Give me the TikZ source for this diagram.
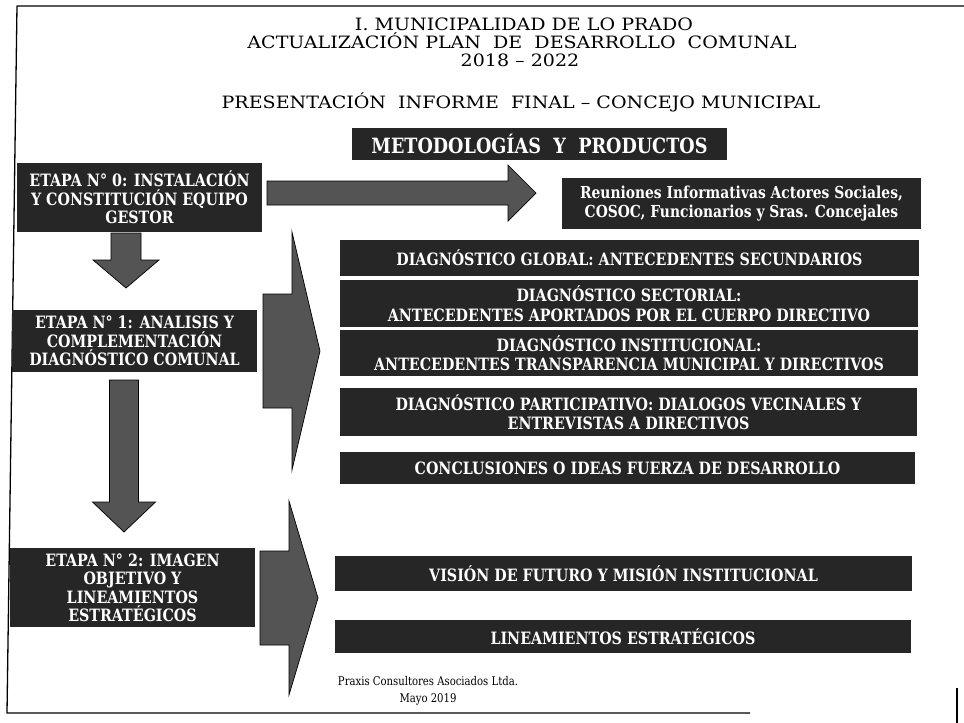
\documentclass[tikz,border=0pt]{standalone}
\usepackage{fontspec}
\setmainfont{DejaVu Serif}
\newfontfamily\headfont[FakeStretch=1.12]{DejaVu Serif}
\newfontfamily\boxfont[FakeStretch=0.84]{DejaVu Serif}
\usetikzlibrary{calc}

\begin{document}
\begin{tikzpicture}[x=1pt,y=-1pt,
  darkbox/.style={fill=boxColor,text=white,font=\boxfont\bfseries\fontsize{17}{19.5}\selectfont,
    align=center,inner sep=0pt,outer sep=0pt},
  etapabox/.style={darkbox,font=\boxfont\bfseries\fontsize{17}{18.5}\selectfont,minimum width=245},
  titletext/.style={font=\headfont\fontsize{17}{20}\selectfont,inner sep=0pt},
  arrowfill/.style={draw=black,fill=arrowColor,line width=0.7pt,line join=miter},
  blockright/.style n args={3}{to path={let \p1=(\tikztostart),\p2=(\tikztotarget) in
    (\x1,\y1+#1) -- (\x2-#3,\y1+#1) -- (\x2-#3,\y1+#2) -- (\x2,\y1) --
    (\x2-#3,\y1-#2) -- (\x2-#3,\y1-#1) -- (\x1,\y1-#1) -- cycle}},
  blockdown/.style n args={3}{to path={let \p1=(\tikztostart),\p2=(\tikztotarget) in
    (\x1-#1,\y1) -- (\x1-#1,\y2+#3) -- (\x1-#2,\y2+#3) -- (\x1,\y2) --
    (\x1+#2,\y2+#3) -- (\x1+#1,\y2+#3) -- (\x1+#1,\y1) -- cycle}}]
\definecolor{fillColor}{RGB}{255,255,255}
\definecolor{boxColor}{gray}{0.15}
\definecolor{arrowColor}{gray}{0.33}
\path[use as bounding box,fill=fillColor] (0,0) rectangle (964,723);

% page frame of the scan
\path[draw=black,line width=1.3pt,line join=round] (964,6) -- (17,6) -- (7,713) -- (750,713);
\path[draw=black,line width=1.1pt] (957,688) -- (957,723);

% heading
\node[titletext] (tit1) at (524,24) {I. MUNICIPALIDAD DE LO PRADO};
\node[titletext] (tit2) at (522,41) {ACTUALIZACIÓN PLAN\ \ DE\ \ DESARROLLO\ \ COMUNAL};
\node[titletext] (tit3) at (520,60) {2018 – 2022};
\node[titletext] (tit4) at (521,102) {PRESENTACIÓN\ \ INFORME\ \ FINAL – CONCEJO MUNICIPAL};

\node[darkbox,minimum width=375,minimum height=32,font=\boxfont\bfseries\fontsize{21}{22}\selectfont] (metod) at (539.5,144) {METODOLOGÍAS\ \ Y\ \ PRODUCTOS};

% stages
\node[etapabox,minimum height=69] (etapa0) at (139.5,197.5) {ETAPA N° 0: INSTALACIÓN\\Y CONSTITUCIÓN EQUIPO\\GESTOR};
\node[etapabox,minimum height=62] (etapa1) at (134.5,341) {ETAPA N° 1: ANALISIS Y\\COMPLEMENTACIÓN\\DIAGNÓSTICO COMUNAL};
\node[etapabox,minimum height=79] (etapa2) at (132.5,587.5) {ETAPA N° 2: IMAGEN\\OBJETIVO Y\\LINEAMIENTOS\\ESTRATÉGICOS};

% products
\node[darkbox,minimum width=359,minimum height=51,font=\boxfont\bfseries\fontsize{16.5}{18.5}\selectfont] (reun) at (741.5,203.5) {Reuniones Informativas Actores Sociales,\\COSOC, Funcionarios y Sras. Concejales};
\node[darkbox,minimum width=579,minimum height=36] (global) at (629.5,258) {DIAGNÓSTICO GLOBAL: ANTECEDENTES SECUNDARIOS};
\node[darkbox,minimum width=578,minimum height=47] (sect) at (629,303.5) {DIAGNÓSTICO SECTORIAL:\\ANTECEDENTES APORTADOS POR EL CUERPO DIRECTIVO};
\node[darkbox,minimum width=578,minimum height=46] (inst) at (629,353) {DIAGNÓSTICO INSTITUCIONAL:\\ANTECEDENTES TRANSPARENCIA MUNICIPAL Y DIRECTIVOS};
\node[darkbox,minimum width=577,minimum height=48] (part) at (628.5,412) {DIAGNÓSTICO PARTICIPATIVO: DIALOGOS VECINALES Y\\ENTREVISTAS A DIRECTIVOS};
\node[darkbox,minimum width=575,minimum height=32] (concl) at (627.5,468) {CONCLUSIONES O IDEAS FUERZA DE DESARROLLO};
\node[darkbox,minimum width=577,minimum height=35] (vision) at (623.5,573.5) {VISIÓN DE FUTURO Y MISIÓN INSTITUCIONAL};
\node[darkbox,minimum width=576,minimum height=33] (linea) at (623,636.5) {LINEAMIENTOS ESTRATÉGICOS};

% block arrows
\path[arrowfill] ($(etapa0.east)+(5,-4.5)$) to[blockright={12}{28}{28}] ($(reun.west)+(-26,-10.5)$);
\path[arrowfill] ($(etapa0.south)+(-13.5,1)$) to[blockdown={15}{33}{28}] ($(etapa1.north)+(-8.5,-22)$);
\path[arrowfill] ($(etapa1.south)+(-10.5,8)$) to[blockdown={14.5}{31.5}{30}] ($(etapa2.north)+(-8.5,-16)$);
\path[arrowfill] ($(etapa1.east)+(6,10)$) to[blockright={57}{119}{28}] ($(inst.west)+(-20,-2)$);
\path[arrowfill] ($(etapa2.east)+(5,10.5)$) to[blockright={47}{97}{29}] ($(vision.west)!0.5!(linea.west)+(-17,-7)$);

\node[font=\boxfont\fontsize{12}{17}\selectfont,align=center,inner sep=0pt] (praxis) at (428,691) {Praxis Consultores Asociados Ltda.\\Mayo 2019};
\end{tikzpicture}
\end{document}
